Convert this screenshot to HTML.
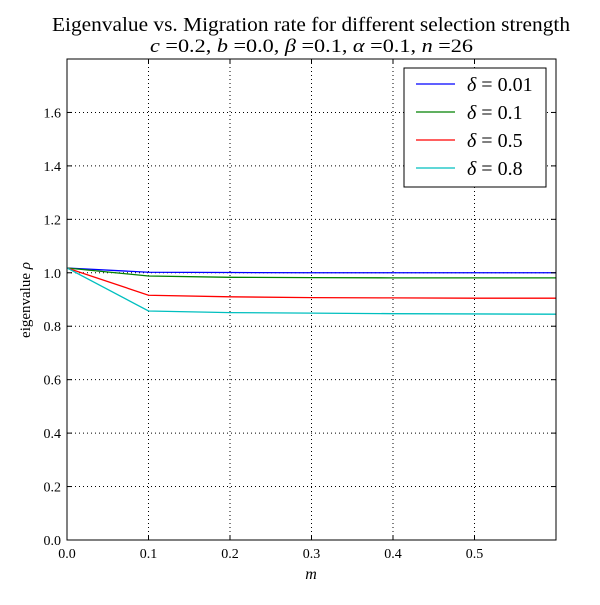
<!DOCTYPE html>
<html><head><meta charset="utf-8"><style>
body{margin:0;background:#fff;}
svg text{font-family:"Liberation Serif",serif;fill:#000;}
</style></head><body>
<svg id="chart" width="600" height="600" xmlns="http://www.w3.org/2000/svg">
<rect width="600" height="600" fill="#fff"/>
<text x="52" y="31" font-size="20" textLength="518" lengthAdjust="spacingAndGlyphs">Eigenvalue vs. Migration rate for different selection strength</text>
<text x="150" y="52" font-size="19" textLength="323" lengthAdjust="spacingAndGlyphs"><tspan font-style="italic">c</tspan> =0.2, <tspan font-style="italic">b</tspan> =0.0, <tspan font-style="italic">β</tspan> =0.1, <tspan font-style="italic">α</tspan> =0.1, <tspan font-style="italic">n</tspan> =26</text>
<g id="grid"></g>
<g id="series"></g>
<rect x="67" y="59" width="489" height="481" fill="none" stroke="#000" stroke-width="1"/>
<g id="ticks"></g>
<text x="311" y="579" font-size="16" font-style="italic" text-anchor="middle">m</text>
<text transform="translate(30,300) rotate(-90)" font-size="15" text-anchor="middle">eigenvalue <tspan font-style="italic">ρ</tspan></text>
<g id="legend">
<rect x="404" y="68" width="142" height="119" fill="#fff" stroke="#000"/>
</g>
</svg>
<script>
const xValues=[0,0.1,0.2,0.3,0.4,0.5,0.6];
const seriesLabels=["δ = 0.01","δ = 0.1","δ = 0.5","δ = 0.8"];
const seriesColors=["#0000ff","#008000","#ff0000","#00bfbf"];
const s1=[1.018,1.002,1.001,1.0,1.0,1.0,1.0];
const s2=[1.018,0.988,0.983,0.982,0.981,0.981,0.981];
const s3=[1.018,0.916,0.91,0.907,0.906,0.905,0.905];
const s4=[1.018,0.857,0.851,0.849,0.847,0.846,0.845];
const xTicks=[0,0.1,0.2,0.3,0.4,0.5];
const yTicks=[0,0.2,0.4,0.6,0.8,1.0,1.2,1.4,1.6];
const NS="http://www.w3.org/2000/svg";
const X0=67,X1=556,Y0=540,Y1=59;
const xs=v=>X0+(v/0.6)*(X1-X0);
const ys=v=>Y0-(v/1.8)*(Y0-Y1);
function mk(t,a,p){const e=document.createElementNS(NS,t);for(const k in a)e.setAttribute(k,a[k]);p.appendChild(e);return e;}
const grid=document.getElementById('grid'),ticks=document.getElementById('ticks');
xTicks.forEach(v=>{
 const x=xs(v);
 if(v>0){const g=mk('line',{x1:x,x2:x,y1:Y1,y2:Y0,stroke:'#000','stroke-dasharray':'1,3','stroke-width':1},grid);
 
 }
 mk('line',{x1:x,x2:x,y1:Y0,y2:Y0-5,stroke:'#000'},ticks);
 mk('line',{x1:x,x2:x,y1:Y1,y2:Y1+5,stroke:'#000'},ticks);
 const t=mk('text',{x:x,y:Y0+18,'font-size':14,'text-anchor':'middle'},ticks);
 t.textContent=v.toFixed(1);
 
 
});
yTicks.forEach(v=>{
 const y=ys(v);
 if(v>0){const g=mk('line',{x1:X0,x2:X1,y1:y,y2:y,stroke:'#000','stroke-dasharray':'1,3','stroke-width':1},grid);
 
 }
 mk('line',{x1:X0,x2:X0+5,y1:y,y2:y,stroke:'#000'},ticks);
 mk('line',{x1:X1,x2:X1-5,y1:y,y2:y,stroke:'#000'},ticks);
 const t=mk('text',{x:X0-6,y:y+5,'font-size':14,'text-anchor':'end'},ticks);
 t.textContent=v.toFixed(1);
 
 
});
const series=document.getElementById('series');
[s1,s2,s3,s4].forEach((s,i)=>{
 const p=mk('polyline',{points:s.map((v,j)=>xs(xValues[j])+','+ys(v)).join(' '),fill:'none',stroke:seriesColors[i],'stroke-width':1.3},series);
 
 
});
const lg=document.getElementById('legend');
seriesLabels.forEach((l,i)=>{
 const y=84+i*28;
 const ln=mk('line',{x1:416,x2:455,y1:y,y2:y,stroke:seriesColors[i],'stroke-width':1.3},lg);
 
 
 const t=mk('text',{x:467,y:y+7,'font-size':20},lg);
 t.innerHTML='<tspan font-style="italic">δ</tspan>'+l.slice(1);
 
 
});
</script>
</body></html>
